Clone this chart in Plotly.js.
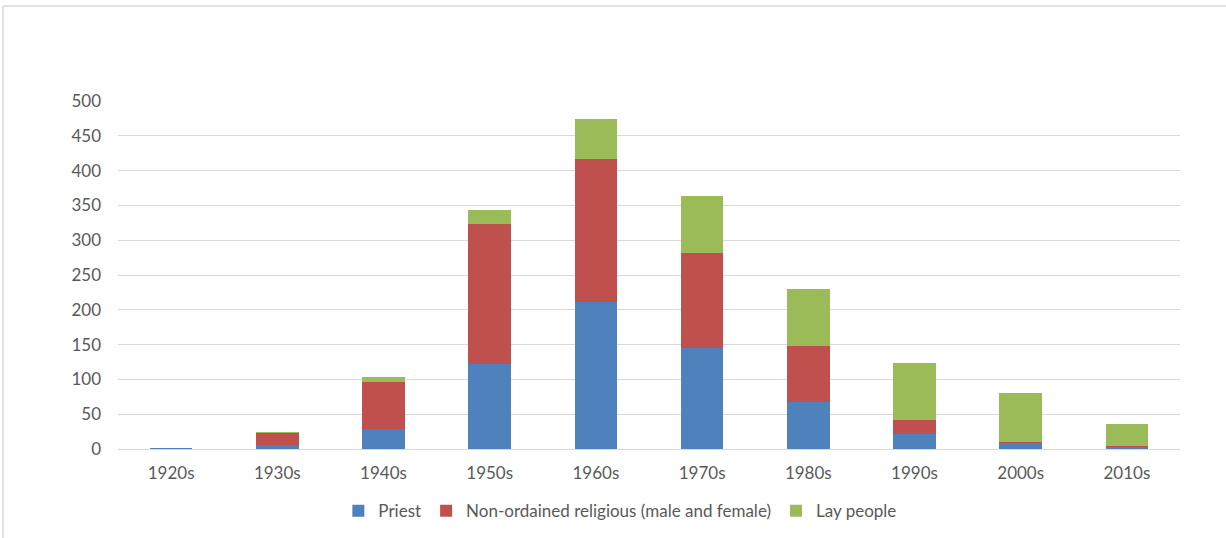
<!DOCTYPE html>
<html>
<head>
<meta charset="utf-8">
<script src="https://cdn.plot.ly/plotly-3.0.1.min.js"></script>
<style>html,body{margin:0;padding:0;background:#fff;}#chart{width:1226px;height:538px;}</style>
</head>
<body>
<div id="chart"></div>
<script>
const decades = ["1920s","1930s","1940s","1950s","1960s","1970s","1980s","1990s","2000s","2010s"];
const priest = [2, 6, 29, 122, 211, 145, 68, 22, 8, 3];
const nonOrdained = [0, 17, 67, 201, 205, 137, 80, 19, 2, 1];
const layPeople = [0, 1, 7, 20, 58, 82, 82, 83, 70, 32];
const seriesNames = ["Priest", "Non-ordained religious (male and female)", "Lay people"];
const yTicks = [0, 50, 100, 150, 200, 250, 300, 350, 400, 450, 500];

const colors = ["#4f81bd", "#c0504d", "#9bbb59"];
const data = [priest, nonOrdained, layPeople].map((vals, i) => ({
  type: "bar",
  x: decades,
  y: vals,
  name: seriesNames[i],
  marker: {color: colors[i], line: {width: 0}},
  hoverinfo: "x+y+name"
}));

const font = {family: "Lato, 'Open Sans', sans-serif", size: 17, color: "#595959"};

const layout = {
  width: 1226,
  height: 538,
  barmode: "stack",
  bargap: 0.6,
  paper_bgcolor: "#ffffff",
  plot_bgcolor: "#ffffff",
  margin: {l: 118, r: 46, t: 101, b: 89},
  font: font,
  showlegend: true,
  legend: {
    orientation: "h",
    xref: "container", yref: "container",
    x: 0.506, y: 0.05,
    xanchor: "center", yanchor: "middle",
    font: font,
    traceorder: "normal",
    itemwidth: 30
  },
  xaxis: {
    type: "category",
    showgrid: false,
    showline: false,
    zeroline: false,
    tickfont: font,
    ticks: "",
    ticklabelstandoff: 12
  },
  yaxis: {
    range: [0, 500],
    tickvals: yTicks,
    ticktext: yTicks.map(String),
    showgrid: true,
    gridcolor: "#d9d9d9",
    gridwidth: 1,
    zeroline: true,
    zerolinecolor: "#d9d9d9",
    zerolinewidth: 1,
    showline: false,
    ticks: "",
    tickfont: font,
    ticklabelstandoff: 16
  }
};

Plotly.newPlot("chart", data, layout, {staticPlot: true, displayModeBar: false}).then(() => {
  // light frame (top and left edges) like the reference
  const svg = document.querySelector("#chart .main-svg");
  const ns = "http://www.w3.org/2000/svg";
  const g = document.createElementNS(ns, "g");
  [[3,6,1226,6],[3,6,3,538]].forEach(c => {
    const l = document.createElementNS(ns, "line");
    l.setAttribute("x1", c[0]); l.setAttribute("y1", c[1]);
    l.setAttribute("x2", c[2]); l.setAttribute("y2", c[3]);
    l.setAttribute("stroke", "#d9d9d9"); l.setAttribute("stroke-width", "1.5");
    g.appendChild(l);
  });
  svg.appendChild(g);
});
</script>
</body>
</html>
